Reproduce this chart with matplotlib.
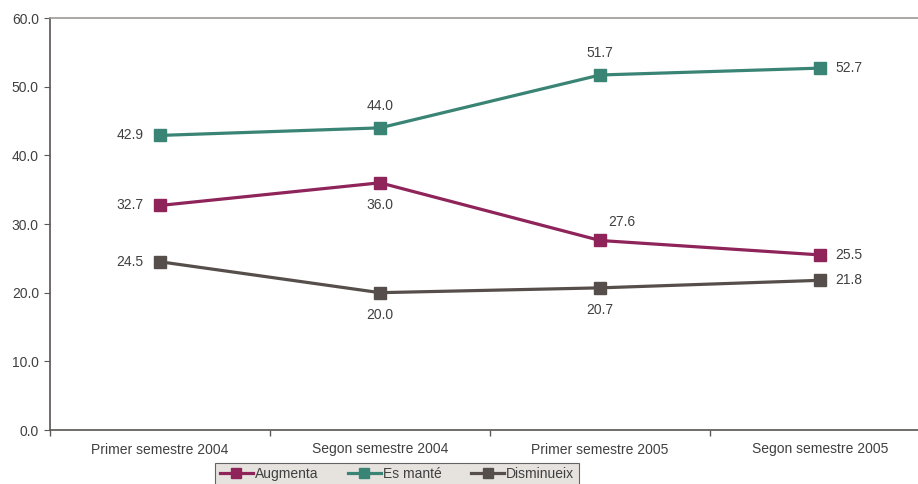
import numpy as np
import matplotlib.pyplot as plt

plt.rcParams['font.family'] = ['Liberation Sans', 'DejaVu Sans']

categories = ["Primer semestre 2004", "Segon semestre 2004",
              "Primer semestre 2005", "Segon semestre 2005"]
augmenta = [32.7, 36.0, 27.6, 25.5]
es_mante = [42.9, 44.0, 51.7, 52.7]
disminueix = [24.5, 20.0, 20.7, 21.8]

series = [
    ("Augmenta", augmenta, "#8e2459", ["left", "below", "aboveright", "right"]),
    ("Es manté", es_mante, "#3a8475", ["left", "above", "above", "right"]),
    ("Disminueix", disminueix, "#564e4b", ["left", "below", "below", "right"]),
]

txt = "#404040"
fs = 10
fig = plt.figure(figsize=(9.18, 4.84), dpi=100)
ax = fig.add_axes([50/918, 1 - 430/484, 880/918, 412/484])

x = np.arange(len(categories))
offsets = {"left": (-12, 0, "right", "center"),
           "right": (11, 0, "left", "center"),
           "above": (0, 11, "center", "bottom"),
           "below": (0, -11, "center", "top"),
           "aboveright": (6, 8, "left", "bottom")}

for name, vals, col, pos in series:
    ax.plot(x, vals, color=col, lw=2.3, marker="s", ms=8.5, label=name)
    for xi, v, p in zip(x, vals, pos):
        dx, dy, ha, va = offsets[p]
        ax.annotate(f"{v:.1f}", (xi, v), xytext=(dx, dy), textcoords="offset points",
                    ha=ha, va=va, fontsize=fs, color=txt)

ax.set_xlim(-0.5, 3.5)
ax.set_ylim(0, 60)
ax.set_yticks(np.arange(0, 61, 10))
ax.set_yticklabels([f"{t:.1f}" for t in np.arange(0, 61, 10)])
ax.set_xticks(x)
ax.set_xticklabels(categories)
ax.set_xticks(np.arange(-0.5, 3.6, 1), minor=True)
ax.tick_params(axis="x", which="major", length=0, pad=9, labelsize=fs, labelcolor=txt)
ax.tick_params(axis="x", which="minor", length=4, color="#5a5a5a", width=1)
ax.tick_params(axis="y", length=4, color="#5a5a5a", labelsize=fs, labelcolor=txt, pad=4)

ax.spines["right"].set_visible(False)
ax.spines["top"].set_color("#a09894")
ax.spines["left"].set_color("#5a5452")
ax.spines["bottom"].set_color("#5a5452")
for s in ["left", "bottom", "top"]:
    ax.spines[s].set_linewidth(1.2)

leg = fig.legend(loc="upper center", bbox_to_anchor=(397/918, 1 - 463/484), ncol=3,
                 fontsize=fs, frameon=True, fancybox=False, handlelength=2.4,
                 columnspacing=2.1, handletextpad=0.15, borderpad=0.3, markerscale=0.8,
                 borderaxespad=0)
leg.get_frame().set_facecolor("#e0dcd8")
leg.get_frame().set_edgecolor("#404040")
leg.get_frame().set_linewidth(0.8)
for t in leg.get_texts():
    t.set_color(txt)

fig.savefig("out.png", dpi=100)
